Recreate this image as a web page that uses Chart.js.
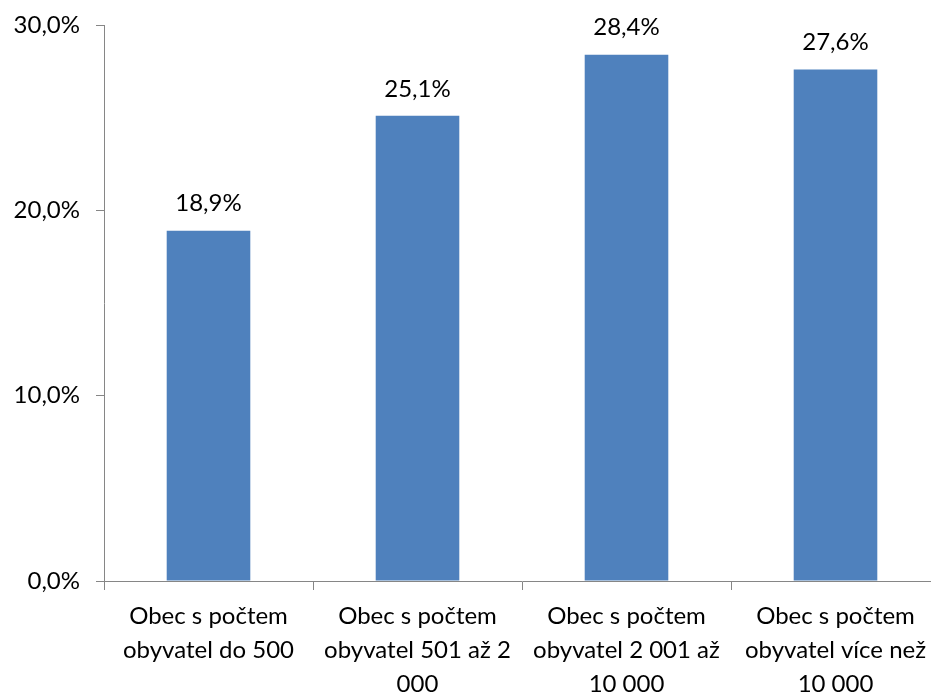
<!DOCTYPE html>
<html>
<head>
<meta charset="utf-8">
<script src="https://cdn.jsdelivr.net/npm/chart.js@4/dist/chart.umd.min.js"></script>
<style>
    html, body { margin: 0; padding: 0; background: #fff; overflow: hidden; }
    .chart-shell { width: 940px; height: 692px; }
</style>
</head>
<body>
<div class="chart-shell"><canvas id="chart"></canvas></div>
<script>
const categories = [
    ['Obec s počtem', 'obyvatel do 500'],
    ['Obec s počtem', 'obyvatel 501 až 2', '000'],
    ['Obec s počtem', 'obyvatel 2 001 až', '10 000'],
    ['Obec s počtem', 'obyvatel více než', '10 000'],
];
const shares = [18.9, 25.1, 28.4, 27.6];
const yTicks = [0, 10, 20, 30];

const fontFamily = 'Lato, "Open Sans", sans-serif';
const fontSize = 24;
const axisColor = '#868686';

const formatPct = (value) => value.toFixed(1).replace('.', ',') + '%';

// draws the value above each bar
const valueLabels = {
    id: 'valueLabels',
    afterDatasetsDraw(chart) {
        const ctx = chart.ctx;
        const meta = chart.getDatasetMeta(0);
        ctx.save();
        ctx.font = `${fontSize}px ${fontFamily}`;
        ctx.fillStyle = '#000';
        ctx.textAlign = 'center';
        ctx.textBaseline = 'middle';
        meta.data.forEach((bar, index) => {
            ctx.fillText(formatPct(shares[index]), bar.x, bar.y - 27);
        });
        ctx.restore();
    },
};

new Chart(document.getElementById('chart').getContext('2d'), {
    type: 'bar',
    data: {
        labels: categories,
        datasets: [
            {
                data: shares,
                backgroundColor: '#4F81BD',
                borderWidth: 0,
                categoryPercentage: 1,
                barPercentage: 0.4,
            },
        ],
    },
    options: {
        responsive: true,
        maintainAspectRatio: false,
        animation: false,
        layout: { padding: { top: 25, left: 0, right: 0, bottom: 0 } },
        plugins: {
            legend: { display: false },
            tooltip: { enabled: false },
        },
        scales: {
            x: {
                afterFit(scale) {
                    scale.height = 111;
                    scale.paddingLeft = 0;
                    scale.paddingRight = 0;
                },
                grid: {
                    offset: true,
                    drawOnChartArea: false,
                    drawTicks: true,
                    tickLength: 9,
                    color: axisColor,
                },
                border: { display: true, color: axisColor, width: 1 },
                ticks: {
                    color: '#000',
                    padding: 9,
                    maxRotation: 0,
                    autoSkip: false,
                    font: { family: fontFamily, size: fontSize, lineHeight: 1.42 },
                },
            },
            y: {
                min: 0,
                max: 30,
                afterFit(scale) {
                    scale.width = 104;
                    scale.paddingTop = 0;
                    scale.paddingBottom = 0;
                },
                afterBuildTicks(scale) { scale.ticks = yTicks.map((value) => ({ value })); },
                grid: {
                    drawOnChartArea: false,
                    drawTicks: true,
                    tickLength: 8,
                    color: axisColor,
                },
                border: { display: true, color: axisColor, width: 1 },
                ticks: {
                    color: '#000',
                    padding: 16,
                    font: { family: fontFamily, size: fontSize },
                    callback: (value) => formatPct(value),
                },
            },
        },
    },
    plugins: [valueLabels],
});
</script>
</body>
</html>
